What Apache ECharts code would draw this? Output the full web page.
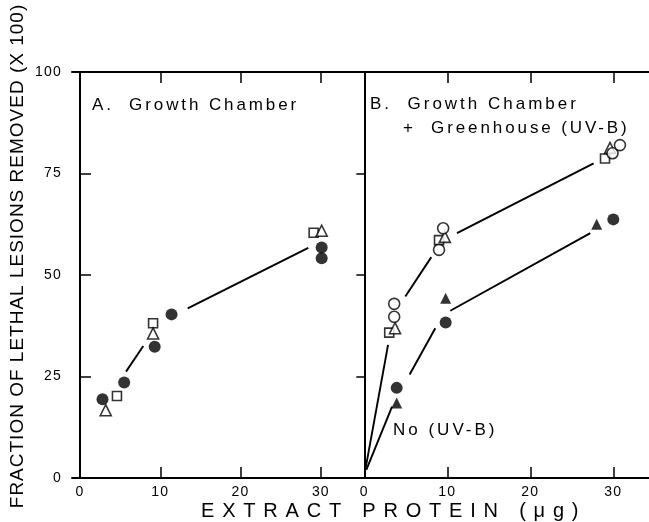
<!DOCTYPE html>
<html><head><meta charset="utf-8">
<script src="https://cdn.jsdelivr.net/npm/echarts@6/dist/echarts.min.js"></script>
<style>html,body{margin:0;padding:0;background:#fff}#c{width:649px;height:522px}</style>
</head><body><div id="c"></div>
<script>
// ---- data ----
const xTickValues = [10, 20, 30];
const xLabelValues = [0, 10, 20, 30];
const yTickLabels = [0, 25, 50, 75, 100];

// Panel A: Growth Chamber
const aFilledCircles = [[2.8, 19.4], [5.5, 23.5], [9.3, 32.3], [11.4, 40.3], [30.1, 56.8], [30.1, 54.1]];
const aOpenSquares = [[4.6, 20.2], [9.1, 38.1], [29.1, 60.4]];
const aOpenTriangles = [[3.2, 16.7], [9.1, 35.6], [30.1, 60.9]];
const aLineSegments = [[[5.73, 26.2], [7.88, 32.5]], [[13.41, 41.8], [28.43, 56.7]]];

// Panel B: Growth Chamber + Greenhouse (UV-B) / No (UV-B)
const bOpenCircles = [[3.6, 42.9], [3.6, 39.7], [9.5, 61.5], [9.0, 56.2], [29.9, 80.0], [30.8, 82.0]];
const bOpenTriangles = [[3.7, 36.9], [9.7, 59.4], [29.6, 81.3]];
const bOpenSquares = [[3.0, 35.8], [9.0, 58.6], [29.0, 78.7]];
const bFilledCircles = [[3.9, 22.2], [9.8, 38.3], [30.0, 63.7]];
const bFilledTriangles = [[3.9, 18.5], [9.8, 44.3], [28.0, 62.5]];
const bUpperSegments = [[[0.12, 2.0], [2.86, 32.8]], [[4.94, 44.7], [8.07, 54.4]], [[11.17, 60.3], [27.63, 77.5]]];
const bLowerSegments = [[[0.24, 2.0], [3.34, 17.6]], [[5.46, 25.5], [8.55, 36.9]], [[10.36, 41.2], [27.23, 60.3]]];

// ---- texts ----
const yTitle = 'FRACTION OF LETHAL LESIONS REMOVED (X 100)';
const xTitle = 'EXTRACT PROTEIN (\u03BCg)';
const titleA = 'A.  Growth Chamber';
const titleB1 = 'B.  Growth Chamber';
const titleB2 = '+  Greenhouse (UV-B)';
const noUVB = 'No (UV-B)';

// letter tracking for the printed-look texts
const SPACING = {};
SPACING[yTitle] = 1; SPACING[xTitle] = 7.8; SPACING[titleA] = 2.9; SPACING[titleB1] = 3.0;
SPACING[titleB2] = 2.9; SPACING[noUVB] = 3;
['0','10','20','30','25','50','75','100'].forEach(function (t) { SPACING[t] = 1.2; });
(function () {
  const proto = CanvasRenderingContext2D.prototype;
  if (!('letterSpacing' in proto)) return;
  const orig = proto.fillText;
  proto.fillText = function () {
    const s = SPACING[arguments[0]];
    if (s === undefined) return orig.apply(this, arguments);
    const prev = this.letterSpacing;
    this.letterSpacing = s + 'px';
    const r = orig.apply(this, arguments);
    this.letterSpacing = prev;
    return r;
  };
})();

const FONT = 'Liberation Sans';
const black = '#000';

function xAx(grid, pos, min, max, labels) {
  return {
    type: 'value', gridIndex: grid, position: pos, min: min, max: max,
    axisLine: { show: true, onZero: false, lineStyle: { color: black, width: 2 } },
    axisTick: { show: true, inside: true, length: 11, customValues: xTickValues, lineStyle: { color: black, width: 1.5 } },
    axisLabel: labels ? { show: true, customValues: xLabelValues, margin: 7, color: black, fontSize: 14, fontFamily: FONT } : { show: false },
    splitLine: { show: false }
  };
}

function scatter(xi, yi, data, symbol, size, filled) {
  return {
    type: 'scatter', xAxisIndex: xi, yAxisIndex: yi, data: data, symbol: symbol, symbolSize: size,
    itemStyle: filled ? { color: black } : { color: '#fff', borderColor: black, borderWidth: 1.6 },
    z: 5, silent: true, animation: false
  };
}
function segs(xi, yi, list) {
  return list.map(function (seg) {
    return { type: 'line', xAxisIndex: xi, yAxisIndex: yi, data: seg, symbol: 'none',
      lineStyle: { color: black, width: 1.9 }, z: 3, silent: true, animation: false };
  });
}

const chart = echarts.init(document.getElementById('c'), null, { renderer: 'canvas' });
const series = [].concat(
  segs(0, 0, aLineSegments),
  segs(2, 1, bUpperSegments),
  segs(2, 1, bLowerSegments),
  [
    scatter(0, 0, aOpenSquares, 'rect', 9, false),
    scatter(0, 0, aOpenTriangles, 'triangle', 11, false),
    scatter(0, 0, aFilledCircles, 'circle', 12, true),
    scatter(2, 1, bOpenSquares, 'rect', 9, false),
    scatter(2, 1, bOpenTriangles, 'triangle', 11, false),
    scatter(2, 1, bOpenCircles, 'circle', 11, false),
    scatter(2, 1, bFilledCircles, 'circle', 12, true),
    scatter(2, 1, bFilledTriangles, 'triangle', 11, true)
  ]
);

chart.setOption({
  animation: false,
  backgroundColor: '#fff',
  grid: [
    { left: 72, top: 72, width: 289, height: 406 },
    { left: 361, top: 72, width: 288, height: 406 }
  ],
  xAxis: [
    xAx(0, 'bottom', -1, 35, true),
    xAx(0, 'top', -1, 35, false),
    xAx(1, 'bottom', -0.4, 34.3, true),
    xAx(1, 'top', -0.4, 34.3, false)
  ],
  yAxis: [
    { type: 'value', gridIndex: 0, position: 'left', min: yTickLabels[0], max: yTickLabels[yTickLabels.length - 1], interval: 25,
      axisLine: { show: true, lineStyle: { color: black, width: 2 } },
      axisTick: { show: true, inside: true, length: 11, lineStyle: { color: black, width: 1.5 } },
      axisLabel: { show: true, margin: 10, color: black, fontSize: 14, fontFamily: FONT },
      splitLine: { show: false } },
    { type: 'value', gridIndex: 1, position: 'left', min: 0, max: 100, interval: 25,
      axisLine: { show: true, lineStyle: { color: black, width: 2 } },
      axisTick: { show: false }, axisLabel: { show: false }, splitLine: { show: false } },
    { type: 'value', gridIndex: 1, position: 'right', min: 0, max: 100, interval: 25,
      axisLine: { show: false },
      axisTick: { show: true, inside: true, length: 8, lineStyle: { color: black, width: 1.5 } },
      axisLabel: { show: false }, splitLine: { show: false } }
  ],
  graphic: [
    { type: 'text', x: 18, y: 256, rotation: Math.PI / 2, silent: true,
      style: { text: yTitle, x: 0, y: 0, fill: black, font: '19px "' + FONT + '"', textAlign: 'center', textVerticalAlign: 'middle' } },
    { type: 'text', x: 201, y: 511, silent: true,
      style: { text: xTitle, fill: black, font: '20px "' + FONT + '"', textAlign: 'left', textVerticalAlign: 'middle' } },
    { type: 'text', x: 92, y: 105, silent: true,
      style: { text: titleA, fill: black, font: '17px "' + FONT + '"', textAlign: 'left', textVerticalAlign: 'middle' } },
    { type: 'text', x: 370, y: 104, silent: true,
      style: { text: titleB1, fill: black, font: '17px "' + FONT + '"', textAlign: 'left', textVerticalAlign: 'middle' } },
    { type: 'text', x: 403, y: 128, silent: true,
      style: { text: titleB2, fill: black, font: '17px "' + FONT + '"', textAlign: 'left', textVerticalAlign: 'middle' } },
    { type: 'text', x: 393, y: 430, silent: true,
      style: { text: noUVB, fill: black, font: '17px "' + FONT + '"', textAlign: 'left', textVerticalAlign: 'middle' } }
  ],
  series: series
});
</script>
</body></html>
